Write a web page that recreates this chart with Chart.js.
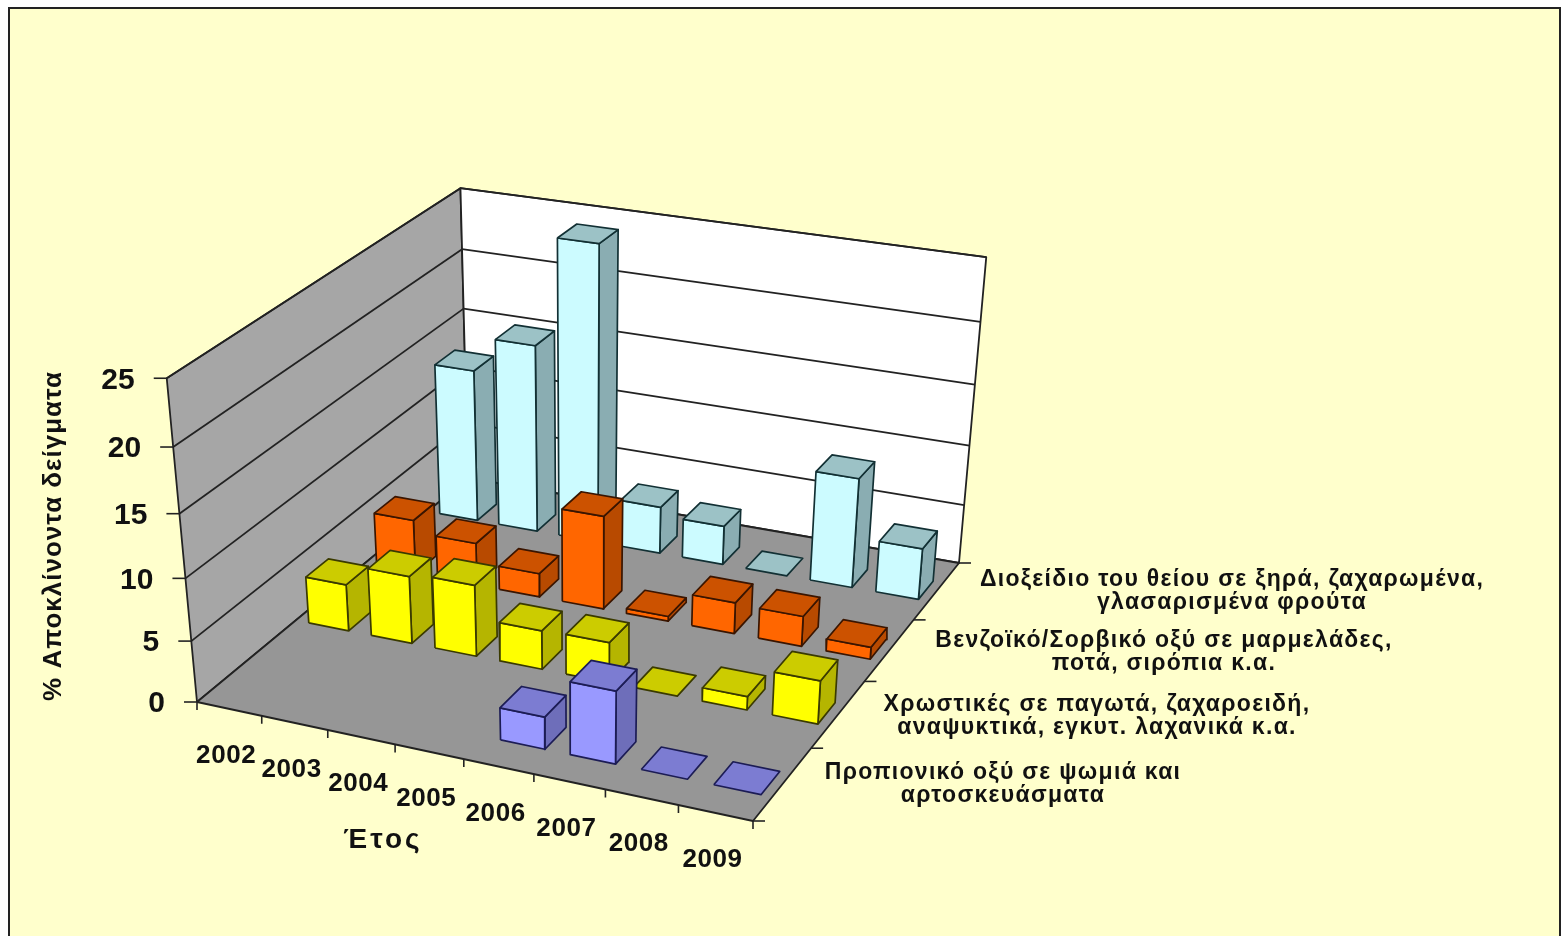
<!DOCTYPE html>
<html>
<head>
<meta charset="utf-8">
<title>% Αποκλίνοντα δείγματα</title>
<script src="https://cdn.jsdelivr.net/npm/chart.js@4"></script>
<style>
  html, body { margin: 0; padding: 0; background: #fff; overflow: hidden; }
  canvas { display: block; filter: blur(0.6px); }
</style>
</head>
<body>
<canvas id="chart" width="1564" height="936"></canvas>
<script>
const years = ["2002", "2003", "2004", "2005", "2006", "2007", "2008", "2009"];
const valueTicks = [0, 5, 10, 15, 20, 25];

// front row first, null = no bar at all
const propionic = [null, null, null, null, 2.6, 5.8, 0, 0];
const colours = [3.9, 5.6, 5.9, 3.2, 3.3, 0, 1.1, 3.5];
const benzoic = [4.6, 3.6, 2.0, 7.8, 0.4, 2.6, 2.5, 1.0];
const sulphur = [13.0, 15.9, 24.8, 4.0, 3.3, 0, 9.2, 4.3];

const rows = [propionic, colours, benzoic, sulphur];
const rowLabels = [
  ["Προπιονικό οξύ σε ψωμιά και", "αρτοσκευάσματα"],
  ["Χρωστικές σε παγωτά, ζαχαροειδή,", "αναψυκτικά, εγκυτ. λαχανικά κ.α."],
  ["Βενζοϊκό/Σορβικό οξύ σε μαρμελάδες,", "ποτά, σιρόπια κ.α."],
  ["Διοξείδιο του θείου σε ξηρά, ζαχαρωμένα,", "γλασαρισμένα φρούτα"]
];
const rowLabelPos = [[1003, 773], [1097, 705], [1164, 641], [1232, 580]];

const rowFaces = [
  { front: "#9999FF", top: "#7C7CD2", side: "#6E6EBA", edge: "#1c1c55" },
  { front: "#FFFF00", top: "#CCCC00", side: "#B5B500", edge: "#3a3a00" },
  { front: "#FF6600", top: "#CC5200", side: "#B84A00", edge: "#3a1500" },
  { front: "#CCFBFF", top: "#9CC2C6", side: "#8AADB2", edge: "#123034" }
];

const barWidth = 0.64;
const barDepth = 0.32;
const barShift = 0.03;
const barFront = 0.32;
const maxValue = 25;

// corners of the box on screen
const floorA = [197, 702], floorB = [753, 821], floorC = [959, 563], floorD = [468, 478];
const topA = [167, 381], topD = [462, 183], topC = [986, 260];

function vanishing() {
  const d1 = [topA[0] - floorA[0], topA[1] - floorA[1]];
  const d2 = [topC[0] - floorC[0], topC[1] - floorC[1]];
  const den = d1[0] * d2[1] - d1[1] * d2[0];
  const t = ((floorC[0] - floorA[0]) * d2[1] - (floorC[1] - floorA[1]) * d2[0]) / den;
  return [floorA[0] + t * d1[0], floorA[1] + t * d1[1]];
}

// floor homography, unit square to quad
const dx1 = floorB[0] - floorC[0], dx2 = floorD[0] - floorC[0], sx = floorA[0] - floorB[0] + floorC[0] - floorD[0];
const dy1 = floorB[1] - floorC[1], dy2 = floorD[1] - floorC[1], sy = floorA[1] - floorB[1] + floorC[1] - floorD[1];
const den = dx1 * dy2 - dx2 * dy1;
const g = (sx * dy2 - dx2 * sy) / den, h = (dx1 * sy - sx * dy1) / den;
const ha = floorB[0] - floorA[0] + g * floorB[0], hb = floorD[0] - floorA[0] + h * floorD[0];
const hd = floorB[1] - floorA[1] + g * floorB[1], he = floorD[1] - floorA[1] + h * floorD[1];
const vp = vanishing();

function heightFactor(u, v, top) {
  const W = g * u + h * v + 1;
  const Y = hd * u + he * v + floorA[1];
  return (Y - top[1] * W) / (top[1] - vp[1]);
}
const kv = (heightFactor(0, 0, topA) + heightFactor(0, 1, topD) + heightFactor(1, 1, topC)) / 3;

// year position (0..8), row position (0..4), value -> point for the x/y scales
function project(x, z, value) {
  const u = x / years.length, v = z / rows.length, t = kv * value / maxValue;
  const W = g * u + h * v + 1 + t;
  return {
    x: (ha * u + hb * v + floorA[0] + t * vp[0]) / W,
    y: (hd * u + he * v + floorA[1] + t * vp[1]) / W
  };
}

const datasets = [];

function face(points, fillColor, edge, lw) {
  datasets.push({
    data: points.concat([points[0]]),
    showLine: true,
    fill: "shape",
    backgroundColor: fillColor,
    borderColor: edge,
    borderWidth: lw,
    borderJoinStyle: "round",
    pointRadius: 0,
    tension: 0
  });
}

function line(a, b, color, lw) {
  datasets.push({
    data: [a, b],
    showLine: true,
    fill: false,
    borderColor: color,
    borderWidth: lw,
    pointRadius: 0,
    tension: 0
  });
}

// walls and floor
const nx = years.length, nz = rows.length;
face([project(0, 0, 0), project(0, nz, 0), project(0, nz, maxValue), project(0, 0, maxValue)], "#A6A6A6", "#222", 1.8);
face([project(0, nz, 0), project(nx, nz, 0), project(nx, nz, maxValue), project(0, nz, maxValue)], "#FFFFFF", "#222", 1.8);
face([project(0, 0, 0), project(nx, 0, 0), project(nx, nz, 0), project(0, nz, 0)], "#969696", "#222", 1.8);

// gridlines
valueTicks.forEach(v => {
  if (v === 0) return;
  line(project(0, 0, v), project(0, nz, v), "#222", 1.8);
  line(project(0, nz, v), project(nx, nz, v), "#222", 1.8);
});

// axis ticks
valueTicks.forEach(v => {
  const p = project(0, 0, v);
  line(p, { x: p.x - 13, y: p.y }, "#222", 1.6);
});
for (let i = 0; i <= nx; i++) {
  const p = project(i, 0, 0);
  line(p, { x: p.x, y: p.y + 8 }, "#222", 1.6);
}
for (let i = 0; i <= nz; i++) {
  const p = project(nx, i, 0);
  line(p, { x: p.x + 12, y: p.y }, "#222", 1.6);
}

// bars, back row first, left to right
for (let r = nz - 1; r >= 0; r--) {
  const c = rowFaces[r];
  rows[r].forEach((val, i) => {
    if (val === null) return;
    const x0 = i + 0.5 + barShift - barWidth / 2, x1 = i + 0.5 + barShift + barWidth / 2;
    const z0 = r + barFront, z1 = r + barFront + barDepth;
    if (val > 0) {
      face([project(x1, z0, 0), project(x1, z1, 0), project(x1, z1, val), project(x1, z0, val)], c.side, c.edge, 1.7);
      face([project(x0, z0, 0), project(x1, z0, 0), project(x1, z0, val), project(x0, z0, val)], c.front, c.edge, 1.7);
    }
    face([project(x0, z0, val), project(x1, z0, val), project(x1, z1, val), project(x0, z1, val)], c.top, c.edge, 1.7);
  });
}

// first dataset is painted last
datasets.reverse();

const FONT = '"Liberation Sans", Arial, sans-serif';

function label(ctx, text, x, y, font, spacing, align) {
  ctx.font = font;
  ctx.letterSpacing = spacing + "px";
  ctx.textAlign = align || "center";
  ctx.textBaseline = "middle";
  ctx.fillStyle = "#111";
  ctx.fillText(text, x, y);
}

const frame = {
  id: "frame",
  beforeDraw(chart) {
    const ctx = chart.ctx;
    ctx.save();
    ctx.fillStyle = "#FFFFCC";
    ctx.fillRect(9, 8, 1551, 940);
    ctx.strokeStyle = "#222";
    ctx.lineWidth = 2;
    ctx.strokeRect(9, 8, 1551, 940);
    ctx.restore();
  }
};

const axisText = {
  id: "axisText",
  afterDatasetsDraw(chart) {
    const ctx = chart.ctx;
    const xs = chart.scales.x, ys = chart.scales.y;
    ctx.save();
    valueTicks.forEach(v => {
      const p = project(0, 0, v);
      label(ctx, String(v), xs.getPixelForValue(p.x) - 32, ys.getPixelForValue(p.y) + 2, "bold 30px " + FONT, 0, "right");
    });
    years.forEach((y, i) => {
      const p = project(i + 0.5, 0, 0);
      label(ctx, y, xs.getPixelForValue(p.x) - 3, ys.getPixelForValue(p.y) + 47, "bold 26px " + FONT, 0.6);
    });
    rowLabels.forEach((lines, r) => {
      const [cx, cy] = rowLabelPos[r];
      lines.forEach((t, j) => label(ctx, t, cx, cy + j * 23, "bold 23px " + FONT, 1.3));
    });
    label(ctx, "Έτος", 383, 840, "bold 28px " + FONT, 3);
    ctx.translate(54, 536);
    ctx.rotate(-Math.PI / 2);
    label(ctx, "% Αποκλίνοντα δείγματα", 0, 0, "bold 26px " + FONT, 1);
    ctx.restore();
  }
};

new Chart(document.getElementById("chart"), {
  type: "scatter",
  data: { datasets },
  options: {
    responsive: false,
    animation: false,
    layout: { padding: 0 },
    plugins: { legend: { display: false }, tooltip: { enabled: false } },
    scales: {
      x: { type: "linear", min: 0, max: 1564, display: false },
      y: { type: "linear", min: 0, max: 936, reverse: true, display: false }
    }
  },
  plugins: [frame, axisText]
});
</script>
</body>
</html>
